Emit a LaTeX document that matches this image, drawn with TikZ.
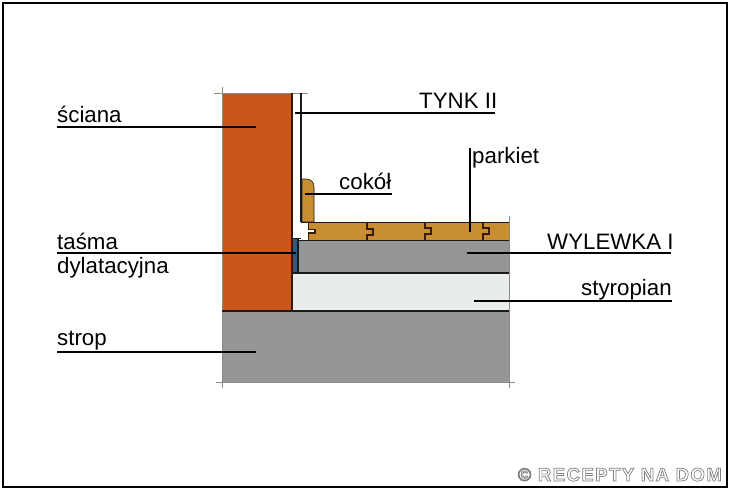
\documentclass[tikz,border=0pt]{standalone}
\usepackage{fontspec}
\setmainfont{Liberation Sans}
\newfontfamily\wmfont[LetterSpace=8,BoldFont={Liberation Sans Bold}]{Liberation Sans}
\definecolor{brick}{HTML}{C9561A}
\definecolor{brickdark}{HTML}{3A1505}
\definecolor{wood}{HTML}{C98E32}
\definecolor{concrete}{HTML}{969696}
\definecolor{foam}{HTML}{E8EDEC}
\definecolor{tape}{HTML}{2A5A8C}
\definecolor{edge}{HTML}{1A1A1A}
\definecolor{woodedge}{HTML}{3A1A0A}
\definecolor{guide}{HTML}{8A8A8A}
\tikzset{
  lab/.style={font=\fontsize{22.3}{24}\selectfont, text=black, inner sep=0pt, anchor=base west},
  leader/.style={draw=black, line width=1.8pt},
  sect/.style={draw=edge, line width=1.7pt},
  guideline/.style={draw=guide, line width=1pt},
  wmark/.style={inner sep=0pt, anchor=base east, font=\wmfont\bfseries\fontsize{18.5}{20}\selectfont}
}
\begin{document}
\begin{tikzpicture}[x=1pt,y=-1pt]
\useasboundingbox (0,0) rectangle (730,491);
\fill[white] (0,0) rectangle (730,491);
\draw[black, line width=2.4pt] (3,3) rectangle (727,487);

% fills
\fill[concrete] (222,311) rectangle (509,382);
\fill[foam] (293,273) rectangle (509,311);
\fill[concrete] (298,241) rectangle (509,273);
\fill[tape] (293,238) rectangle (298,273);
\fill[wood] (309,223) rectangle (509,241);
\fill[brick] (222,93) rectangle (292,311);

% skirting
\draw[draw=edge, line width=.6pt, fill=wood] (302,222) -- (302,179) -- (306,179)
  .. controls (311,179) and (314,182) .. (314,187) -- (314,222) -- cycle;

% guides
\draw[guideline] (214,93) -- (308,93);
\draw[guideline] (222,87) -- (222,388);
\draw[guideline] (216,382) -- (515,382);
\draw[guideline] (509,216) -- (509,388);

% section lines
\draw[brickdark, line width=2.2pt] (292,93) -- (292,311);
\draw[sect] (301,93) -- (301,222);
\draw[sect, line width=1pt] (293,238) -- (301,238);
\draw[sect] (301,222.5) -- (509,222.5);
\draw[sect] (298,240.5) -- (509,240.5);
\draw[sect] (298,238) -- (298,273);
\draw[sect] (293,273) -- (509,273);
\draw[sect] (222,311) -- (509,311);

% parquet joints
\fill[white] (308,230) rectangle (314.5,232.5);
\draw[woodedge, line width=1.4pt] (308.5,223) -- (308.5,229.5) -- (315,229.5) -- (315,233) -- (308.5,233) -- (308.5,240);
\draw[woodedge, line width=1.4pt] (367,223) -- (367,229) -- (373,229) -- (373,235) -- (367,235) -- (367,240);
\draw[woodedge, line width=1.4pt] (425,223) -- (425,228) -- (431,228) -- (431,234) -- (425,234) -- (425,240);
\draw[woodedge, line width=1.4pt] (483,223) -- (483,228) -- (489,228) -- (489,234) -- (483,234) -- (483,240);

% labels
\node[lab] (sciana) at (57,122) {ściana};
\node[lab] (tynk) at (419,108) {TYNK II};
\node[lab] (parkiet) at (472,163) {parkiet};
\node[lab] (cokol) at (339,189) {cokół};
\node[lab] (tasma) at (57,249) {taśma};
\node[lab] (dylat) at (57,273) {dylatacyjna};
\node[lab] (wylewka) at (547,249) {WYLEWKA I};
\node[lab] (styro) at (581,295) {styropian};
\node[lab] (strop) at (57,345) {strop};

% leader ends
\coordinate (sciana-a) at (57,127);   \coordinate (sciana-b) at (256,127);
\coordinate (tynk-a) at (295,113);    \coordinate (tynk-b) at (495,113);
\coordinate (cokol-a) at (305,194);   \coordinate (cokol-b) at (392,194);
\coordinate (parkiet-a) at (470,148); \coordinate (parkiet-b) at (470,232);
\coordinate (tasma-a) at (57,253);    \coordinate (tasma-b) at (296,253);
\coordinate (wyl-a) at (467,253);     \coordinate (wyl-b) at (671,253);
\coordinate (styro-a) at (474,301);   \coordinate (styro-b) at (672,301);
\coordinate (strop-a) at (57,352);    \coordinate (strop-b) at (256,352);
\foreach \n in {sciana,tynk,cokol,parkiet,tasma,wyl,styro,strop}
  \draw[leader] (\n-a) -- (\n-b);

% watermark: one outlined text (white fill, grey stroke)
\node[wmark] (wm) at (722,481) {\special{pdf:code q 2 Tr 0.7 w 0.5 G 1 g}© RECEPTY NA DOM\special{pdf:code Q}};
\end{tikzpicture}
\end{document}
